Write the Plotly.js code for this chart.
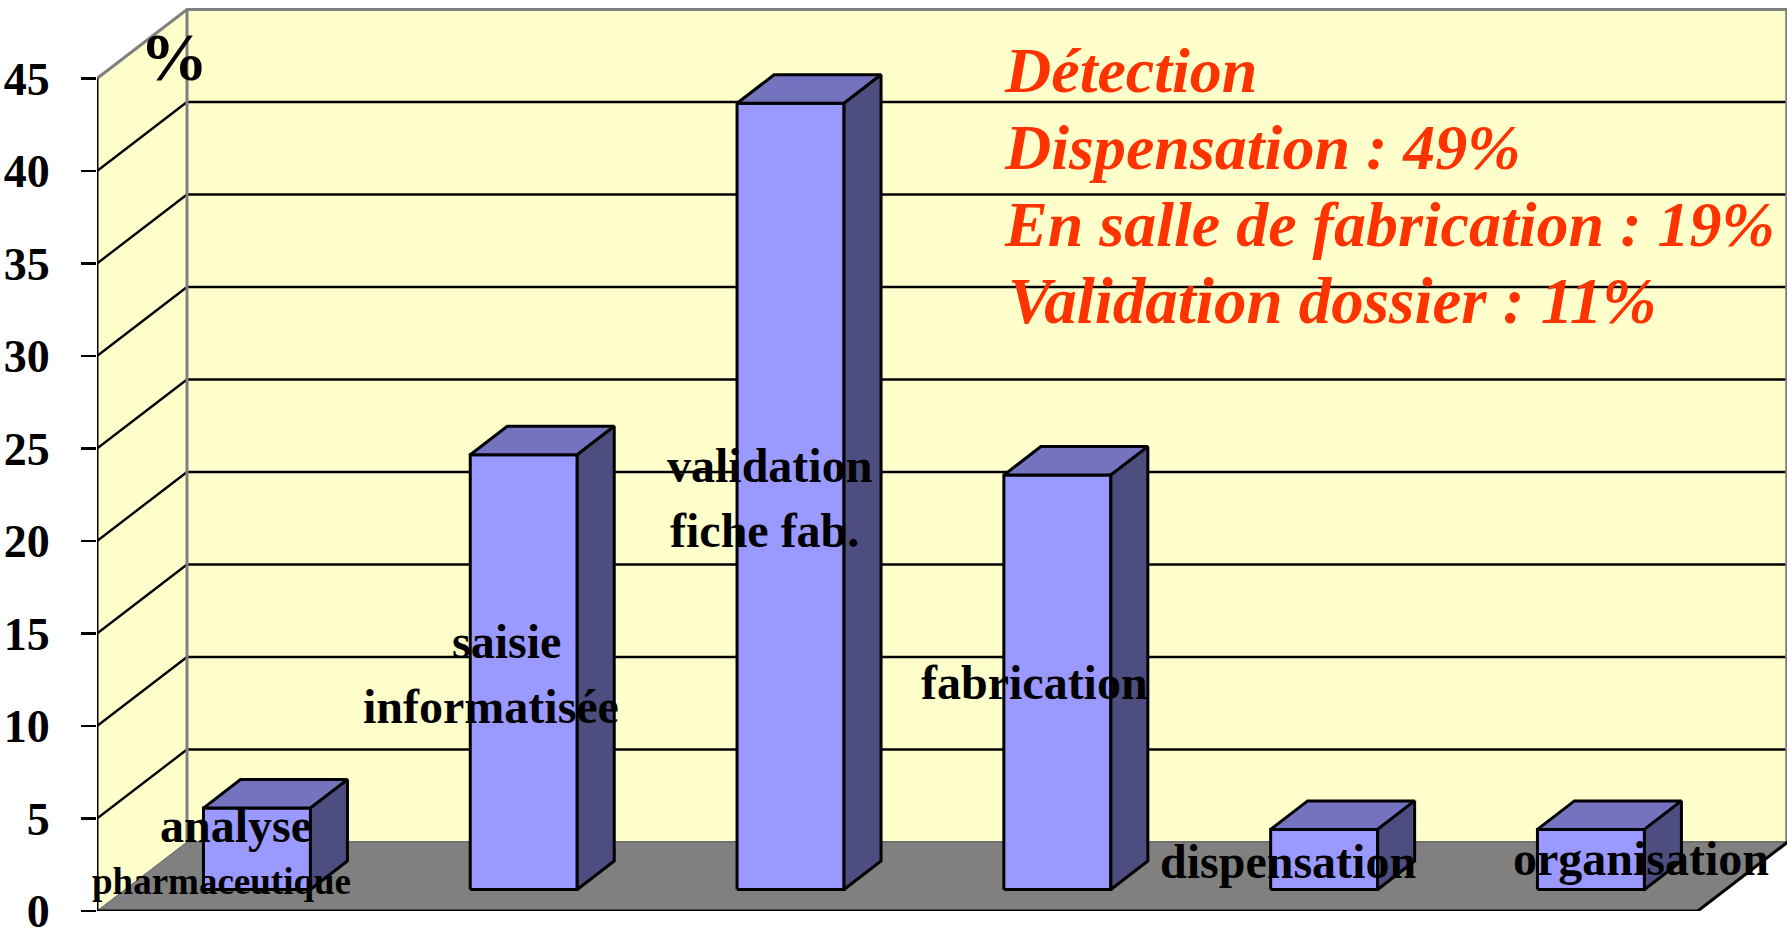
<!DOCTYPE html>
<html><head><meta charset="utf-8">
<script src="https://cdn.plot.ly/plotly-3.0.1.min.js"></script>
<style>html,body{margin:0;padding:0;background:#fff;overflow:hidden}#c{width:1787px;height:932px}</style>
</head><body><div id="c"></div>
<script>
const categories = ["analyse pharmaceutique","saisie informatisée","validation fiche fab.","fabrication","dispensation","organisation"];
const values = [4.4, 23.5, 42.5, 22.4, 3.25, 3.25];
const yTicks = [0,5,10,15,20,25,30,35,40,45];
const noteLines = ["Détection","Dispensation : 49%","En salle de fabrication : 19%","Validation dossier : 11%"];
const labelLines = ["analyse","pharmaceutique","saisie","informatisée","validation","fiche fab.","fabrication","dispensation","organisation"];

const W=1787,H=932,L=97,BOT=911,PXX=266.8,PXY=18.5;
const dX=90/PXX,dY=69/PXY,baseY=21.5/PXY,barW=0.401,barDX=37/PXX,barDY=28.5/PXY,barStart=0.399;
const xMax=(W-L)/PXX,yMax=BOT/PXY;
const nCat=categories.length,yTop=yTicks[yTicks.length-1];
const fx=p=>(p-L)/PXX, fy=p=>(BOT-p)/PXY;
const BLACK="#000",GREY="#808080",LW=3;
const traces=[];
function poly(xs,ys,fill,line,width){
  const t={type:"scatter",mode:"lines",x:xs,y:ys,hoverinfo:"skip",showlegend:false,cliponaxis:false,
    line:{color:line||"rgba(0,0,0,0)",width:width||0,simplify:false}};
  if(fill){t.fill="toself";t.fillcolor=fill;}
  traces.push(t);
}
const xEnd=xMax;
// walls
poly([0,dX,dX,0,0],[0,dY,yTop+dY,yTop,0],"#FFFFCC");
poly([dX,xEnd,xEnd,dX,dX],[dY,dY,yTop+dY,yTop+dY,dY],"#FFFFCC");
// gridlines
yTicks.slice(1,-1).forEach(v=>poly([0,dX,xEnd],[v,v+dY,v+dY],null,BLACK,2.4));
// wall edges
poly([0,dX,xEnd],[yTop,yTop+dY,yTop+dY],null,GREY,3);
poly([dX,dX],[dY,yTop+dY],null,GREY,3);
poly([xEnd-0.003,xEnd-0.003],[dY,yTop+dY],null,GREY,2);
// floor
poly([0,nCat,nCat+dX,dX,0],[0,0,dY,dY,0],GREY);
poly([0,dX],[0,dY],null,"#606060",1);
poly([dX,nCat+dX],[dY,dY],null,"#707070",2);
poly([0,nCat,nCat+dX],[0,0,dY],null,BLACK,LW);
poly([0,0],[0,yTop],null,BLACK,LW);
// bars
values.forEach((v,i)=>{
  const x0=i+barStart,x1=x0+barW,y0=baseY,y1=baseY+v;
  poly([x0,x1,x1,x0,x0],[y0,y0,y1,y1,y0],"#9999FF",BLACK,LW);
  poly([x0,x1,x1+barDX,x0+barDX,x0],[y1,y1,y1+barDY,y1+barDY,y1],"#7373BF",BLACK,LW);
  poly([x1,x1+barDX,x1+barDX,x1,x1],[y0,y0+barDY,y1+barDY,y1,y0],"#4D4D80",BLACK,LW);
});
const serif="'Liberation Serif','Times New Roman',serif";
function ann(text,px,py,size,extra){
  return Object.assign({text:text,x:fx(px),y:fy(py),xref:"x",yref:"y",xanchor:"center",yanchor:"middle",
    showarrow:false,align:"center",font:{family:serif,size:size,color:"#000"}},extra||{});
}
const labelPos=[[236,825,48],[221,881,37],[506,641,48],[491,706,48],[769,465,48],[764,530,48],[1034,682,48],[1288,861,48],[1641,858,48]];
const annotations=labelLines.map((t,i)=>ann("<b>"+t+"</b>",labelPos[i][0],labelPos[i][1],labelPos[i][2]));
annotations.push(ann("<b>%</b>",174,57,68));
const noteY=[70,147,224,301];
const noteX=[1002,1002,1002,1006];
const noteSize=[64,64,64,65];
noteLines.forEach((t,i)=>annotations.push(ann("<b><i>"+t+"</i></b>",noteX[i],noteY[i],noteSize[i],{xanchor:"left",align:"left",font:{family:serif,size:noteSize[i],color:"#FF3300"}})));
Plotly.newPlot("c",traces,{
  width:W,height:H,margin:{l:L,r:0,t:0,b:H-BOT,pad:0},
  paper_bgcolor:"#fff",plot_bgcolor:"rgba(0,0,0,0)",showlegend:false,
  xaxis:{range:[0,xMax],visible:false,fixedrange:true},
  yaxis:{range:[0,yMax],tickmode:"array",tickvals:yTicks,ticktext:yTicks.map(String),
    ticks:"outside",ticklen:15,tickwidth:2.6,tickcolor:"#000",showgrid:false,zeroline:false,showline:false,
    ticklabelstandoff:22,ticklabeloverflow:"allow",tickfont:{family:serif,size:46,color:"#000",weight:"bold"},fixedrange:true},
  annotations:annotations
},{displayModeBar:false,staticPlot:true});
</script></body></html>
